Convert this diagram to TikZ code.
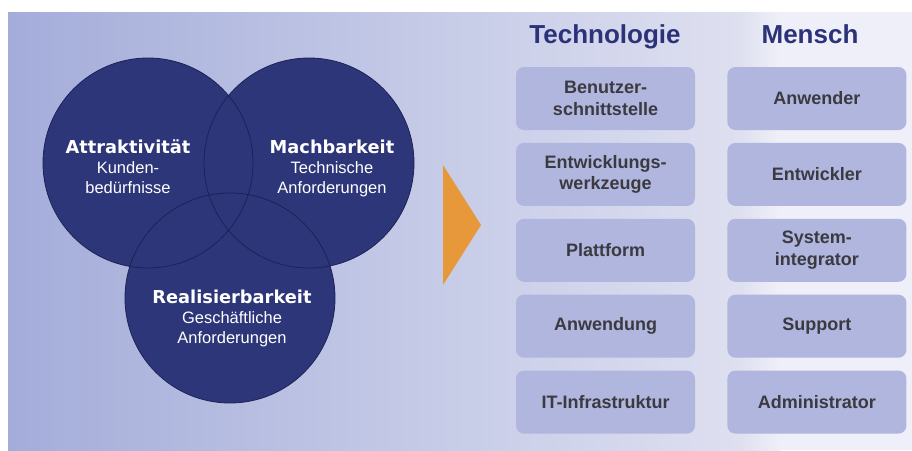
\documentclass[tikz,border=0pt]{standalone}
\usepackage{fontspec}
\setmainfont{Liberation Sans}
\newfontfamily\vennfont{DejaVu Sans}
\usetikzlibrary{positioning}

\definecolor{vennblue}{RGB}{46,54,122}
\definecolor{vennline}{RGB}{28,34,86}
\definecolor{panelleft}{RGB}{164,173,218}
\definecolor{panelright}{RGB}{222,224,240}
\definecolor{boxfill}{RGB}{176,182,222}
\definecolor{boxtext}{RGB}{58,58,64}
\definecolor{headblue}{RGB}{44,50,120}
\definecolor{arrowor}{RGB}{230,152,58}

\tikzset{
  vennbox/.style={circle, fill=vennblue, minimum size=210pt, inner sep=0pt},
  venntitle/.style={text=white, font=\vennfont\bfseries\fontsize{17.8}{20}\selectfont},
  vennsub/.style={text=white, align=center, inner sep=0pt,
    font=\fontsize{16.5}{19.5}\selectfont},
  itembox/.style={rectangle, rounded corners=8pt, fill=boxfill,
    minimum width=179pt, minimum height=63pt, align=center, text=boxtext,
    font=\bfseries\fontsize{18}{21.5}\selectfont},
  colhead/.style={anchor=base, text=headblue, font=\bfseries\fontsize{26}{28}\selectfont}
}

\begin{document}
\begin{tikzpicture}[x=1pt,y=-1pt]
  \useasboundingbox (0,0) rectangle (912,450);
  % background
  \fill[white] (0,0) rectangle (912,450);
  \shade[left color=panelleft, right color=panelright] (8,12) rectangle (740,450);
  \shade[left color=panelright, right color=panelright!50!white] (740,12) rectangle (780,450);
  \fill[panelright!50!white] (780,12) rectangle (912,450);

  % venn
  \node(att)[vennbox] at (148,163) {};
  \node(mach)[vennbox] at (309,163) {};
  \node(real)[vennbox] at (230,298) {};
  \foreach \c in {att,mach,real}
    \draw[vennline, line width=0.8pt] (\c.center) circle (105pt);

  \node(atttitle)[venntitle] at (128,147) {Attraktivität};
  \node(attsub)[vennsub, below=4pt of atttitle] {Kunden-\\bedürfnisse};
  \node(machtitle)[venntitle] at (332,147) {Machbarkeit};
  \node(machsub)[vennsub, below=4pt of machtitle] {Technische\\Anforderungen};
  \node(realtitle)[venntitle] at (232,297) {Realisierbarkeit};
  \node(realsub)[vennsub, below=4pt of realtitle] {Geschäftliche\\Anforderungen};

  % arrow
  \fill[arrowor] (443,165) -- (481,225) -- (443,285) -- cycle;

  % columns
  \node(tech)[colhead] at (605,43) {Technologie};
  \node(mensch)[colhead] at (810,43) {Mensch};

  \node(t1)[itembox] at (605.5,98.5) {Benutzer-\\schnittstelle};
  \node(t2)[itembox, below=12.5pt of t1] {Entwicklungs-\\werkzeuge};
  \node(t3)[itembox, below=12.5pt of t2] {Plattform};
  \node(t4)[itembox, below=12.5pt of t3] {Anwendung};
  \node(t5)[itembox, below=12.5pt of t4] {IT-Infrastruktur};

  \node(m1)[itembox, right=32pt of t1] {Anwender};
  \node(m2)[itembox, right=32pt of t2] {Entwickler};
  \node(m3)[itembox, right=32pt of t3] {System-\\integrator};
  \node(m4)[itembox, right=32pt of t4] {Support};
  \node(m5)[itembox, right=32pt of t5] {Administrator};
\end{tikzpicture}
\end{document}
